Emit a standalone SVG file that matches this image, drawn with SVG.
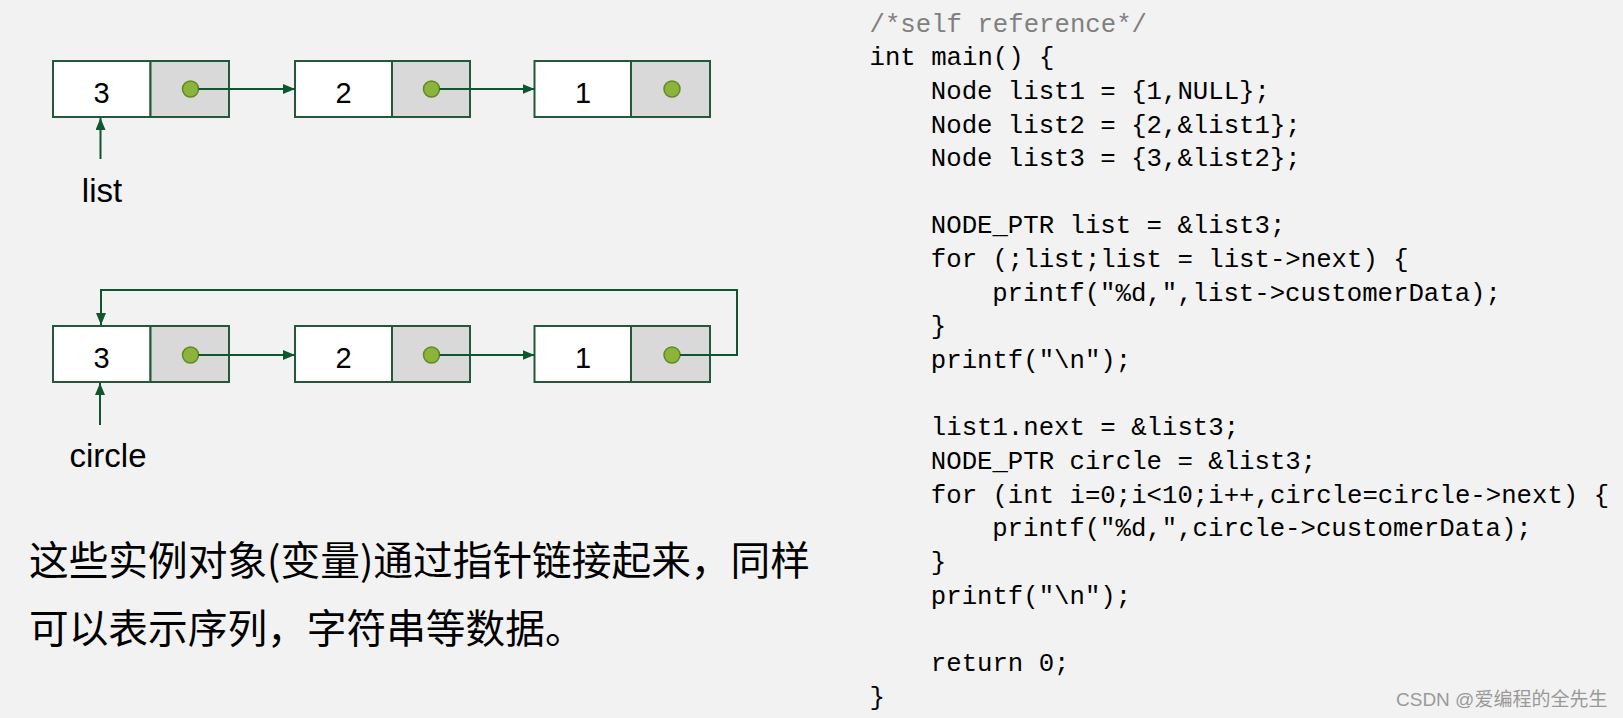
<svg xmlns="http://www.w3.org/2000/svg" width="1623" height="718" viewBox="0 0 1623 718">
<defs>
<style>
.cell{fill:#ffffff;stroke:#23593a;stroke-width:2}
.ptr{fill:#d9d9d9;stroke:#23593a;stroke-width:2}
.dot{fill:#8cb43a;stroke:#5f8a26;stroke-width:1.5}
.num{font-family:"Liberation Sans",Arial,sans-serif;font-size:29px;fill:#000;text-anchor:middle}
.lbl{font-family:"Liberation Sans",Arial,sans-serif;font-size:33px;fill:#000;text-anchor:middle}
.conn{fill:none;stroke:#0f5530;stroke-width:2}
.code{font-family:"Liberation Mono","Courier New",monospace;font-size:25.7px;font-style:normal;fill:#000;white-space:pre}
.cmt{fill:#808080}
.cn{font-family:"Noto Sans CJK SC","Liberation Sans",sans-serif;font-size:39.7px;fill:#000}
.wm{font-family:"Liberation Sans","Noto Sans CJK SC",sans-serif;font-size:19px;fill:#9a9a9a}
</style>
<marker id="ah" viewBox="0 0 12 10" refX="12" refY="5" markerWidth="12" markerHeight="10" markerUnits="userSpaceOnUse" orient="auto">
<path d="M0,0 L12,5 L0,10 Z" fill="#0f5530"/>
</marker>
</defs>
<rect x="0" y="0" width="1623" height="718" fill="#f2f2f2"/>

<g id="list-node3">
<rect class="cell" x="53" y="61" width="97.5" height="56"/>
<rect class="ptr" x="150.5" y="61" width="78.5" height="56"/>
<circle class="dot" cx="190.5" cy="89" r="8"/>
<text class="num" x="101.5" y="102.5">3</text>
</g>
<g id="list-node2">
<rect class="cell" x="295" y="61" width="97" height="56"/>
<rect class="ptr" x="392" y="61" width="78" height="56"/>
<circle class="dot" cx="431.5" cy="89" r="8"/>
<text class="num" x="343.5" y="102.5">2</text>
</g>
<g id="list-node1">
<rect class="cell" x="534.5" y="61" width="96.5" height="56"/>
<rect class="ptr" x="631" y="61" width="79" height="56"/>
<circle class="dot" cx="672" cy="89" r="8"/>
<text class="num" x="583" y="102.5">1</text>
</g>
<g id="list-label">
<text class="lbl" x="102" y="202">list</text>
</g>

<g id="circle-node3">
<rect class="cell" x="53" y="326" width="97.5" height="56"/>
<rect class="ptr" x="150.5" y="326" width="78.5" height="56"/>
<circle class="dot" cx="190.5" cy="355" r="8"/>
<text class="num" x="101.5" y="367.5">3</text>
</g>
<g id="circle-node2">
<rect class="cell" x="295" y="326" width="97" height="56"/>
<rect class="ptr" x="392" y="326" width="78" height="56"/>
<circle class="dot" cx="431.5" cy="355" r="8"/>
<text class="num" x="343.5" y="367.5">2</text>
</g>
<g id="circle-node1">
<rect class="cell" x="534.5" y="326" width="96.5" height="56"/>
<rect class="ptr" x="631" y="326" width="79" height="56"/>
<circle class="dot" cx="672" cy="355" r="8"/>
<text class="num" x="583" y="367.5">1</text>
</g>
<g id="circle-label">
<text class="lbl" x="108" y="467">circle</text>
</g>

<g id="connectors">
<line class="conn" x1="198.5" y1="89" x2="295" y2="89" marker-end="url(#ah)"/>
<line class="conn" x1="439.5" y1="89" x2="534.5" y2="89" marker-end="url(#ah)"/>
<line class="conn" x1="100.5" y1="159" x2="100.5" y2="118" marker-end="url(#ah)"/>
<line class="conn" x1="198.5" y1="355" x2="295" y2="355" marker-end="url(#ah)"/>
<line class="conn" x1="439.5" y1="355" x2="534.5" y2="355" marker-end="url(#ah)"/>
<path class="conn" d="M680,355 H737 V290 H101 V325" marker-end="url(#ah)"/>
<line class="conn" x1="100" y1="425" x2="100" y2="383" marker-end="url(#ah)"/>
</g>

<g id="description">
<text class="cn" x="29" y="575">这些实例对象(变量)通过指针链接起来，同样</text>
<text class="cn" x="29" y="643">可以表示序列，字符串等数据。</text>
</g>

<g id="code">
<text class="code cmt" x="869.5" y="31.5">/*self reference*/</text>
<text class="code" x="869.5" y="65.2">int main() {</text>
<text class="code" x="930.8" y="98.8">Node list1 = {1,NULL};</text>
<text class="code" x="930.8" y="132.5">Node list2 = {2,&amp;list1};</text>
<text class="code" x="930.8" y="166.1">Node list3 = {3,&amp;list2};</text>
<text class="code" x="930.8" y="233.4">NODE_PTR list = &amp;list3;</text>
<text class="code" x="930.8" y="267.1">for (;list;list = list-&gt;next) {</text>
<text class="code" x="992.2" y="300.7">printf("%d,",list-&gt;customerData);</text>
<text class="code" x="930.8" y="334.4">}</text>
<text class="code" x="930.8" y="368">printf("\n");</text>
<text class="code" x="930.8" y="435.3">list1.next = &amp;list3;</text>
<text class="code" x="930.8" y="469">NODE_PTR circle = &amp;list3;</text>
<text class="code" x="930.8" y="502.6">for (int i=0;i&lt;10;i++,circle=circle-&gt;next) {</text>
<text class="code" x="992.2" y="536.3">printf("%d,",circle-&gt;customerData);</text>
<text class="code" x="930.8" y="569.9">}</text>
<text class="code" x="930.8" y="603.6">printf("\n");</text>
<text class="code" x="930.8" y="670.9">return 0;</text>
<text class="code" x="869.5" y="704.5">}</text>
</g>

<g id="watermark">
<text class="wm" x="1396" y="705.5">CSDN @爱编程的全先生</text>
</g>
</svg>
